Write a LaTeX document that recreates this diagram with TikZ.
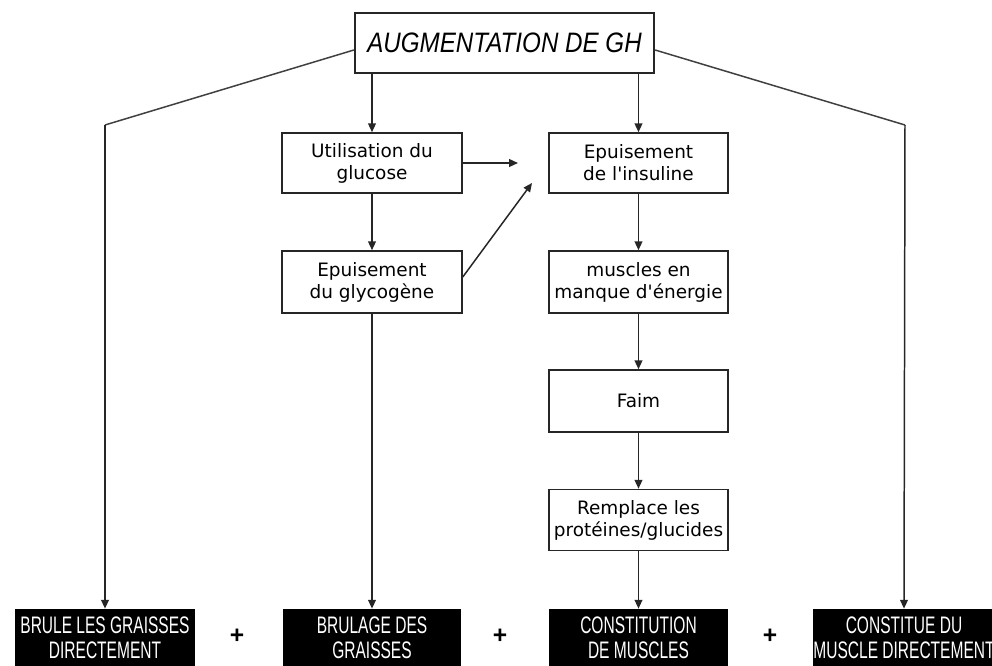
\documentclass[tikz,border=0pt]{standalone}
\usepackage{fontspec}
\setmainfont{Liberation Sans}
\newfontfamily\boxfont{DejaVu Sans}
\newfontfamily\narrowfont[FakeStretch=0.65]{Liberation Sans}
\newfontfamily\titlefont[FakeStretch=0.86]{Liberation Sans Italic}
\usetikzlibrary{arrows.meta}

\tikzset{
  etape/.style={draw=black!85, line width=0.9pt, fill=white, align=center,
    minimum width=3.6cm, minimum height=1.2cm, inner xsep=1pt,
    font=\boxfont\fontsize{10.5}{12.5}\selectfont},
  resultat/.style={fill=black, text=white, align=center, minimum width=3.6cm,
    minimum height=1.16cm, inner sep=0pt,
    font=\narrowfont\fontsize{13.6}{14.2}\selectfont},
  fleche/.style={draw=black!85, line width=0.85pt, -{Triangle[length=5pt,width=4.4pt]}},
  trait/.style={draw=black!75, line width=0.85pt},
  plus/.style={font=\bfseries\fontsize{14}{14}\selectfont}
}

\begin{document}
\begin{tikzpicture}[x=0.02cm,y=-0.02cm]
\useasboundingbox (0,0) rectangle (992,666);

% haut
\node[draw=black!85, line width=1.3pt, minimum width=5.98cm, minimum height=1.2cm,
  font=\titlefont\fontsize{16}{16}\selectfont] (gh) at (504.5,43) {AUGMENTATION DE GH};

% colonne gauche
\node[etape] (glu) at (372,163) {Utilisation du\\glucose};
\node[etape, minimum height=1.24cm] (gly) at (372,282) {Epuisement\\du glycogène};

% colonne droite
\node[etape, minimum width=3.58cm] (ins) at (638.5,163) {Epuisement\\de l'insuline};
\node[etape, minimum width=3.58cm, minimum height=1.24cm] (mus) at (638.5,282) {muscles en\\manque d'énergie};
\node[etape, minimum width=3.58cm, minimum height=1.24cm] (faim) at (638.5,401) {Faim};
\node[etape, minimum width=3.58cm, minimum height=1.22cm] (rem) at (638.5,520) {Remplace les\\protéines/glucides};

% resultats
\node[resultat] (b1) at (105,638) {BRULE LES GRAISSES\\DIRECTEMENT};
\node[resultat, minimum width=3.56cm] (b2) at (372,638) {BRULAGE DES\\GRAISSES};
\node[resultat, minimum width=3.58cm] (b3) at (638.5,638) {CONSTITUTION\\DE MUSCLES};
\node[resultat, minimum width=3.52cm] (b4) at (904,638) {CONSTITUE DU\\MUSCLE DIRECTEMENT};

\node[plus] (p1) at (237,636) {+};
\node[plus] (p2) at (500,636) {+};
\node[plus] (p3) at (770,636) {+};

\coordinate (kl) at (105,125);
\coordinate (kr) at (905,125);
\coordinate (ga) at (518,163);
\coordinate (gb) at (532,183);

% fleches
\draw[fleche] (gh.south -| glu.north) -- (glu.north);
\draw[fleche] (gh.south -| ins.north) -- (ins.north);
\draw[fleche] (glu) -- (gly);
\draw[fleche] (ins) -- (mus);
\draw[fleche] (mus) -- (faim);
\draw[fleche] (faim) -- (rem);
\draw[fleche] (rem) -- (b3);
\draw[fleche] (gly) -- (b2);
\draw[fleche] (glu.east) -- (ga);
\draw[fleche] ([yshift=0.1cm]gly.east) -- (gb);
\draw[trait] ([yshift=-0.14cm]gh.west) -- (kl);
\draw[trait] ([yshift=-0.14cm]gh.east) -- (kr);
\draw[fleche] (kl) -- (b1.north);
\draw[fleche] (kr) -- (b4.north);
\end{tikzpicture}
\end{document}
